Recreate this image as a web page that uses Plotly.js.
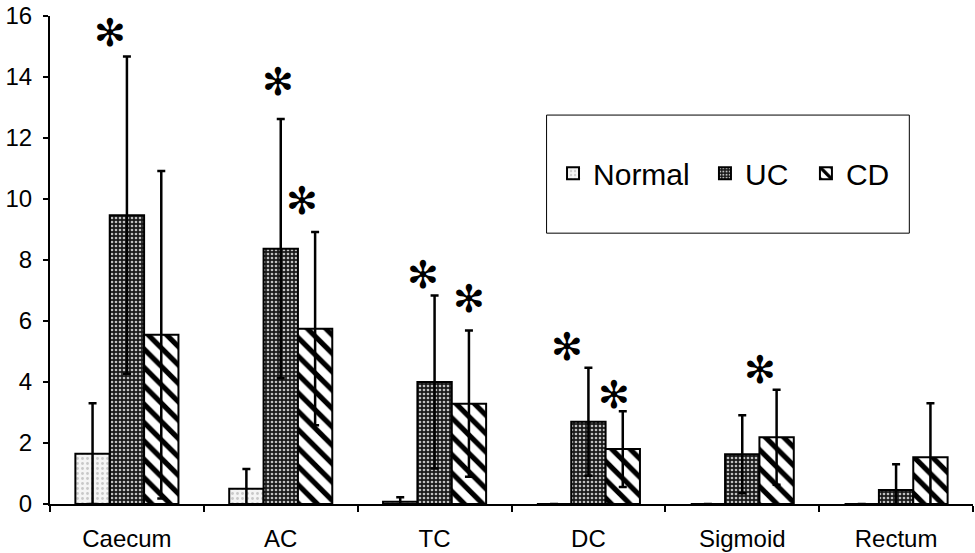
<!DOCTYPE html>
<html>
<head>
<meta charset="utf-8">
<script src="https://cdn.plot.ly/plotly-3.0.1.min.js"></script>
<style>html,body{margin:0;padding:0;background:#fff;}#chart{width:975px;height:553px;}</style>
</head>
<body>
<div id="chart"></div>
<script>
var categories = ["Caecum", "AC", "TC", "DC", "Sigmoid", "Rectum"];
var seriesNames = ["Normal", "UC", "CD"];
var normalValues = [1.65, 0.5, 0.07, 0, 0, 0];
var normalErrors = [1.65, 0.65, 0.15, 0, 0, 0];
var ucValues = [9.47, 8.37, 4.0, 2.7, 1.63, 0.46];
var ucErrors = [5.2, 4.25, 2.84, 1.77, 1.28, 0.84];
var cdValues = [5.55, 5.75, 3.29, 1.8, 2.19, 1.53];
var cdErrors = [5.37, 3.17, 2.4, 1.24, 1.56, 1.77];
// significance markers: category, series index, y value of the asterisk
var starCats = ["Caecum", "AC", "AC", "TC", "TC", "DC", "DC", "Sigmoid"];
var starSeries = [1, 1, 2, 1, 2, 1, 2, 2];
var starY = [15.45, 13.83, 9.92, 7.5, 6.73, 5.15, 3.56, 4.38];

var starNudge = [-17, -3, -13, -12, 0, -21, -9, -17];
var legendX = [0.545, 0.7096, 0.819];
var legendIds = ["legend", "legend2", "legend3"];

var barStyles = [
  {pattern: {shape: ".", fgcolor: "#c8c8c8", bgcolor: "#f4f4f4", size: 5, solidity: 0.25}},
  {pattern: {shape: ".", fgcolor: "#c0c0c0", bgcolor: "#1a1a1a", size: 4, solidity: 0.35}},
  {pattern: {shape: "\\", fgcolor: "#000", bgcolor: "#fff", size: 13, solidity: 0.4}}
];
var valuesList = [normalValues, ucValues, cdValues];
var errorsList = [normalErrors, ucErrors, cdErrors];

var traces = seriesNames.map(function (name, i) {
  return {
    type: "bar",
    name: name,
    legend: legendIds[i],
    x: categories,
    y: valuesList[i],
    marker: {color: barStyles[i].pattern.bgcolor, pattern: barStyles[i].pattern, line: {color: "#000", width: 2}},
    error_y: {type: "data", array: errorsList[i], visible: true, color: "#000", thickness: 2.5, width: 4},
    hoverinfo: "none"
  };
});

var barPx = 34.3;
var annotations = starCats.map(function (c, k) {
  return {
    x: c, y: starY[k], xref: "x", yref: "y",
    text: "\u273B", showarrow: false,
    xshift: (starSeries[k] - 1) * barPx + starNudge[k],
    font: {family: "DejaVu Sans", size: 38, color: "#000"}
  };
});

function legendCfg(x) {
  return {
    orientation: "h", x: x, y: 0.678, xanchor: "left", yanchor: "middle",
    font: {size: 30, family: "Liberation Sans, Arial, sans-serif", color: "#000"},
    bgcolor: "rgba(0,0,0,0)", borderwidth: 0
  };
}

var layout = {
  width: 975, height: 553,
  margin: {l: 50, r: 2, t: 16, b: 49},
  paper_bgcolor: "#fff", plot_bgcolor: "#fff",
  font: {family: "Liberation Sans, Arial, sans-serif", color: "#000", size: 24},
  barmode: "group",
  bargap: 0.33,
  bargroupgap: 0,
  showlegend: true,
  legend: legendCfg(legendX[0]),
  legend2: legendCfg(legendX[1]),
  legend3: legendCfg(legendX[2]),
  xaxis: {
    type: "category",
    showline: true, linecolor: "#000", linewidth: 2,
    ticks: "outside", tickson: "boundaries", ticklen: 6, tickwidth: 2, tickcolor: "#000",
    ticklabelstandoff: 12,
    showgrid: false, zeroline: false,
    tickfont: {size: 24}
  },
  yaxis: {
    range: [0, 16], dtick: 2,
    showline: true, linecolor: "#000", linewidth: 2,
    ticks: "outside", ticklen: 5, tickwidth: 2, tickcolor: "#000",
    ticklabelstandoff: 6,
    showgrid: false, zeroline: false,
    tickfont: {size: 24}
  },
  shapes: [{
    type: "rect", xref: "paper", yref: "paper",
    x0: 0.538, x1: 0.931, y0: 0.555, y1: 0.797,
    line: {color: "#000", width: 1}, fillcolor: "rgba(0,0,0,0)"
  }],
  annotations: annotations
};

Plotly.newPlot("chart", traces, layout, {displayModeBar: false, staticPlot: true});
</script>
</body>
</html>
